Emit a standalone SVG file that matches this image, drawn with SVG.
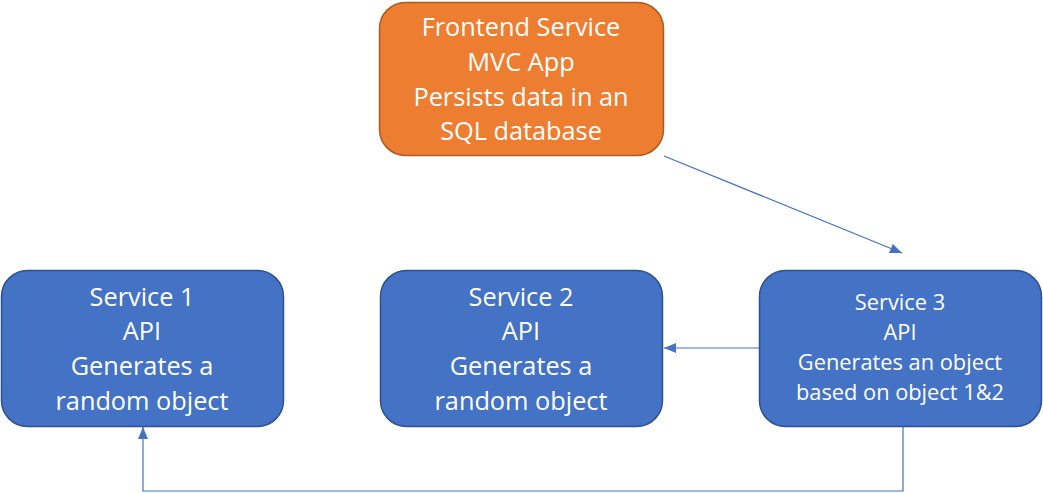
<svg xmlns="http://www.w3.org/2000/svg" width="1043" height="493" viewBox="0 0 1043 493">
<defs>
<style>
.blue{fill:#4472C4;stroke:#2F528F;stroke-width:1.5}
.orange{fill:#ED7D31;stroke:#AE5A21;stroke-width:1.5}
.t{font-family:"Open Sans","Noto Sans",sans-serif;fill:#FFFFFF;text-anchor:middle}
.big{font-size:25.3px}
.small{font-size:21.8px}
.c{fill:none;stroke:#4472C4;stroke-width:1.2}
</style>
<marker id="arr" viewBox="0 0 12 10" refX="12" refY="5" markerWidth="12" markerHeight="10" markerUnits="userSpaceOnUse" orient="auto">
<path d="M0,0 L12,5 L0,10 Z" fill="#4472C4"/>
</marker>
</defs>
<rect width="1043" height="493" fill="#FFFFFF"/>
<g id="connectors">
<line class="c" x1="664" y1="156" x2="902" y2="253" marker-end="url(#arr)"/>
<line class="c" x1="759" y1="348" x2="664" y2="348" marker-end="url(#arr)"/>
<polyline class="c" points="903,427 903,491 143,491 143,427" marker-end="url(#arr)"/>
</g>
<g id="frontend">
<rect class="orange" x="379.5" y="2.5" width="284" height="153" rx="26"/>
<text class="t big" x="521" y="36">Frontend Service</text>
<text class="t big" x="521" y="71">MVC App</text>
<text class="t big" x="521" y="106">Persists data in an</text>
<text class="t big" x="521" y="140">SQL database</text>
</g>
<g id="service1">
<rect class="blue" x="1.5" y="270.5" width="282" height="156" rx="26"/>
<text class="t big" x="142" y="306">Service 1</text>
<text class="t big" x="142" y="340">API</text>
<text class="t big" x="142" y="375">Generates a</text>
<text class="t big" x="142" y="410">random object</text>
</g>
<g id="service2">
<rect class="blue" x="380.5" y="270.5" width="282" height="156" rx="26"/>
<text class="t big" x="521" y="306">Service 2</text>
<text class="t big" x="521" y="340">API</text>
<text class="t big" x="521" y="375">Generates a</text>
<text class="t big" x="521" y="410">random object</text>
</g>
<g id="service3">
<rect class="blue" x="759.5" y="270.5" width="282" height="156" rx="26"/>
<text class="t small" x="900" y="310">Service 3</text>
<text class="t small" x="900" y="340">API</text>
<text class="t small" x="900" y="370">Generates an object</text>
<text class="t small" x="900" y="400">based on object 1&amp;2</text>
</g>
</svg>
